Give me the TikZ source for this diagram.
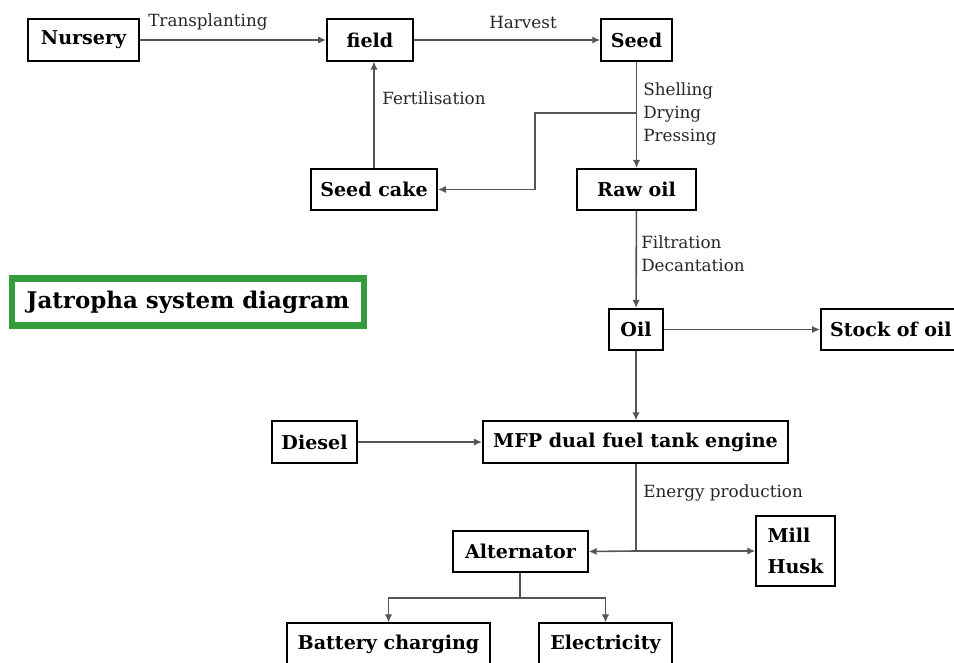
\documentclass[tikz,border=0pt]{standalone}
\usepackage{fontspec}
\setmainfont{DejaVu Serif}
\usepackage{xcolor}
\usepackage{tikz}
\usetikzlibrary{arrows.meta,positioning}
\definecolor{framegreen}{RGB}{52,156,58}
\definecolor{linegray}{RGB}{85,85,85}

\begin{document}
\begin{tikzpicture}[
  x=0.75pt, y=-0.75pt,
  every node/.style={font=\fontsize{12.6}{17.6}\selectfont},
  box/.style={draw, line width=1.3pt, align=center, inner sep=2pt, minimum height=31pt, font=\fontsize{14.3}{23}\selectfont\bfseries},
  lbl/.style={align=left, inner sep=0pt, text=black!85},
  arrow/.style={-{Latex[length=6pt,width=5.5pt]}, line width=1.2pt, linegray},
  line/.style={line width=1.2pt, linegray}
]
  \useasboundingbox (0,0) rectangle (954,663);
  % top row
  \node[box, minimum width=83pt] (nursery) at (83.5,40) {Nursery};
  \node[box, minimum width=64.5pt] (field) at (370,40) {field};
  \node[box, minimum width=53pt] (seed) at (636.5,40) {Seed};
  \node[box, minimum width=94.5pt] (seedcake) at (374,189.5) {Seed cake};
  \node[box, minimum width=89pt] (rawoil) at (636.5,189.5) {Raw oil};
  \node[box, minimum width=40.5pt] (oil) at (636,329.5) {Oil};
  \node[box, minimum width=105pt, anchor=west] (stock) at (820,329.5) {Stock of oil};
  % title
  \node[draw=framegreen, line width=5pt, minimum width=264pt, minimum height=35pt,
        font=\fontsize{17.2}{19}\selectfont\bfseries] (title) at (188,302) {Jatropha system diagram};
  % engine part
  \node[box, minimum width=64pt] (diesel) at (314.5,442) {Diesel};
  \node[box, minimum width=229pt] (engine) at (635.5,442) {MFP dual fuel tank engine};
  \node[box, minimum width=101pt] (alternator) at (520.5,551.5) {Alternator};
  \node[box, minimum width=59pt, minimum height=52.5pt, align=left] (mill) at (795.5,551) {Mill\\Husk};
  \node[box, minimum width=152pt] (battery) at (388.5,644) {Battery charging};
  \node[box, minimum width=100pt] (electricity) at (605.5,644) {Electricity};

  \coordinate (branch) at (636,113);
  \coordinate (split) at (636,551);
  \coordinate (fork) at (520,598);

  % labels
  \node[lbl, anchor=west] (transplanting) at (148,22) {Transplanting};
  \node[lbl, anchor=west] (harvest) at (489,22) {Harvest};
  \node[lbl, anchor=west] (fertilisation) at (382,98) {Fertilisation};
  \node[lbl, anchor=north west] (processing) at (643,82) {Shelling\\Drying\\Pressing};
  \node[lbl, anchor=north west] (cleaning) at (641,235) {Filtration\\Decantation};
  \node[lbl, anchor=west] (energy) at (643,493) {Energy production};

  % connectors
  \draw[arrow] (nursery) -- (field);
  \draw[arrow] (field) -- (seed);
  \draw[arrow] (seed) -- (rawoil);
  \draw[arrow] (seedcake.north) -- (seedcake.north |- field.south);
  \draw[arrow] (branch) -- ++(-101,0) |- (seedcake.east);
  \draw[arrow] (rawoil) -- (oil);
  \draw[arrow] (oil) -- (stock);
  \draw[arrow] (oil) -- (oil.south |- engine.north);
  \draw[arrow] (diesel) -- (engine);
  \draw[line] (engine.south -| split) -- (split);
  \draw[arrow] (split) -- (alternator.east);
  \draw[arrow] (split) -- (mill.west);
  \draw[line] (alternator.south -| fork) -- (fork);
  \draw[arrow] (fork) -| (battery.north);
  \draw[arrow] (fork) -| (electricity.north);
\end{tikzpicture}
\end{document}
